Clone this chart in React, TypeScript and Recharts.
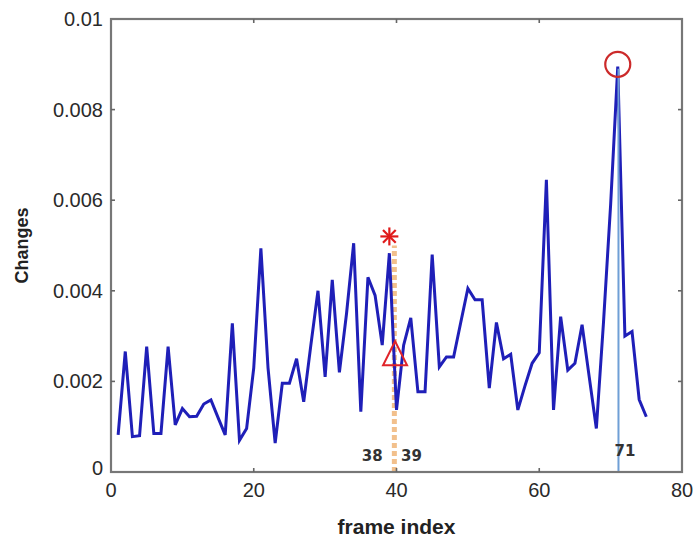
import React from 'react';
import { ComposedChart, Line, Scatter, XAxis, YAxis, ReferenceLine, Label } from 'recharts';

const frameIndex: number[] = [
  1, 2, 3, 4, 5, 6, 7, 8, 9, 10, 11, 12, 13, 14, 15, 16, 17, 18, 19, 20,
  21, 22, 23, 24, 25, 26, 27, 28, 29, 30, 31, 32, 33, 34, 35, 36, 37, 38, 39, 40,
  41, 42, 43, 44, 45, 46, 47, 48, 49, 50, 51, 52, 53, 54, 55, 56, 57, 58, 59, 60,
  61, 62, 63, 64, 65, 66, 67, 68, 69, 70, 71, 72, 73, 74, 75,
];

const changes: number[] = [
  0.00082, 0.00266, 0.00078, 0.0008, 0.00277, 0.00085, 0.00085, 0.00277, 0.00104, 0.0014,
  0.00122, 0.00123, 0.0015, 0.00159, 0.0012, 0.00082, 0.00328, 0.0007, 0.00096, 0.0023,
  0.00494, 0.0023, 0.00064, 0.00196, 0.00196, 0.0025, 0.00155, 0.0028, 0.004, 0.0021,
  0.00424, 0.0022, 0.0035, 0.00505, 0.00133, 0.0043, 0.0039, 0.0028, 0.00483, 0.00137,
  0.0028, 0.0034, 0.00177, 0.00177, 0.0048, 0.00232, 0.00254, 0.00254, 0.0033, 0.00405,
  0.0038, 0.0038, 0.00185, 0.0033, 0.0025, 0.0026, 0.00137, 0.0019, 0.0024, 0.00263,
  0.00645, 0.00137, 0.00343, 0.00225, 0.0024, 0.00325, 0.0021, 0.00096, 0.0033, 0.0059,
  0.00895, 0.003, 0.0031, 0.0016, 0.00122,
];

const xTicks: number[] = [0, 20, 40, 60, 80];
const yTicks: number[] = [0, 0.002, 0.004, 0.006, 0.008, 0.01];
const xMax = 80;
const yMax = 0.01;

// markers
const asteriskPoint = [{ x: 39, y: 0.0052 }];
const trianglePoint = [{ x: 39.8, y: 0.0026 }];
const circlePoint = [{ x: 71, y: 0.009 }];

// reference lines
const dashedLineX = 39.7;
const dashedLineTop = 0.005;
const solidLineX = 71.1;
const solidLineTop = 0.0089;

// annotation labels
const annotationTexts: string[] = ['38', '39', '71'];
const annotationX: number[] = [36.6, 42.1, 72.0];
const annotationY: number[] = [0.00025, 0.00025, 0.00035];

const series = frameIndex.map((f, i) => ({ x: f, y: changes[i] }));
const annotations = annotationTexts.map((t, i) => ({ x: annotationX[i], y: annotationY[i], text: t }));

const W = 697;
const H = 538;
const MARGIN = { top: 19, right: 15, bottom: 0, left: 0 };
const Y_AXIS_W = 111;
const X_AXIS_H = 66;
const PLOT_LEFT = MARGIN.left + Y_AXIS_W;
const PLOT_TOP = MARGIN.top;
const PLOT_RIGHT = W - MARGIN.right;
const PLOT_BOTTOM = H - MARGIN.bottom - X_AXIS_H;
const TICK_LEN = 4;
const AXIS_COLOR = '#777777';

const FONT = '"Liberation Sans", Arial, Helvetica, sans-serif';

const YTick = (props: any) => {
  const { x, y, payload } = props;
  const v = payload.value;
  const label = v === 0 ? '0' : String(+v.toFixed(3));
  return (
    <text x={x - 8} y={y} dy={v === 0 ? 3 : 7} textAnchor="end" fontFamily={FONT} fontSize={20} fill="#2a2a2a">
      {label}
    </text>
  );
};

const XTick = (props: any) => {
  const { x, y, payload } = props;
  return (
    <text x={x} y={y} dy={25} textAnchor="middle" fontFamily={FONT} fontSize={20} fill="#2a2a2a">
      {String(payload.value)}
    </text>
  );
};

// Box frame and inward ticks drawn over the plot frame (MATLAB "box on")
const Frame = () => {
  const pw = PLOT_RIGHT - PLOT_LEFT;
  const ph = PLOT_BOTTOM - PLOT_TOP;
  const inner = (v: number, max: number) => v !== 0 && v !== max;
  return (
    <svg
      width={W}
      height={H}
      style={{ position: 'absolute', left: 0, top: 0, pointerEvents: 'none', overflow: 'visible' }}
    >
      <rect x={PLOT_LEFT} y={PLOT_TOP} width={pw} height={ph} fill="none" stroke={AXIS_COLOR} strokeWidth={2.2} />
      {xTicks.filter((t) => inner(t, xMax)).map((t) => {
        const px = PLOT_LEFT + (t / xMax) * pw;
        return (
          <g key={`xt${t}`} stroke="#666" strokeWidth={1.6}>
            <line x1={px} y1={PLOT_BOTTOM} x2={px} y2={PLOT_BOTTOM - TICK_LEN} />
            <line x1={px} y1={PLOT_TOP} x2={px} y2={PLOT_TOP + TICK_LEN} />
          </g>
        );
      })}
      {yTicks.filter((t) => inner(t, yMax)).map((t) => {
        const py = PLOT_BOTTOM - (t / yMax) * ph;
        return (
          <g key={`yt${t}`} stroke="#666" strokeWidth={1.6}>
            <line x1={PLOT_LEFT} y1={py} x2={PLOT_LEFT + TICK_LEN} y2={py} />
            <line x1={PLOT_RIGHT} y1={py} x2={PLOT_RIGHT - TICK_LEN} y2={py} />
          </g>
        );
      })}
    </svg>
  );
};

const AsteriskShape = (props: any) => {
  const { cx, cy } = props;
  const r = 9;
  const d = r * 0.707;
  return (
    <g stroke="#e01a1a" strokeWidth={2.2}>
      <line x1={cx - r} y1={cy} x2={cx + r} y2={cy} />
      <line x1={cx} y1={cy - r} x2={cx} y2={cy + r} />
      <line x1={cx - d} y1={cy - d} x2={cx + d} y2={cy + d} />
      <line x1={cx - d} y1={cy + d} x2={cx + d} y2={cy - d} />
    </g>
  );
};

const TriangleShape = (props: any) => {
  const { cx, cy } = props;
  const w = 12;
  return (
    <polygon
      points={`${cx},${cy - 13} ${cx - w},${cy + 11} ${cx + w},${cy + 11}`}
      fill="none"
      stroke="#e0242a"
      strokeWidth={2}
    />
  );
};

const CircleShape = (props: any) => {
  const { cx, cy } = props;
  return <circle cx={cx} cy={cy} r={12.5} fill="none" stroke="#cc2a2a" strokeWidth={2.2} />;
};

const TextShape = (props: any) => {
  const { cx, cy, payload } = props;
  return (
    <text x={cx} y={cy} textAnchor="middle" fontFamily='"DejaVu Sans", sans-serif' fontWeight="bold" fontSize={15} fill="#333">
      {payload.text}
    </text>
  );
};

const YLabel = (props: any) => {
  const vb = props.viewBox || {};
  const cx = 22;
  const cy = vb.y + vb.height / 2;
  return (
    <text
      x={cx}
      y={cy}
      transform={`rotate(-90, ${cx}, ${cy})`}
      textAnchor="middle"
      dominantBaseline="central"
      fontFamily={FONT}
      fontWeight="bold"
      fontSize={18}
      fill="#222"
    >
      Changes
    </text>
  );
};

export default function App() {
  return (
    <div style={{ position: 'absolute', left: 0, top: 0, width: W, height: H, background: '#fff' }}>
      <ComposedChart width={W} height={H} margin={MARGIN}>
        <XAxis
          xAxisId="main"
          type="number"
          dataKey="x"
          domain={[0, xMax]}
          ticks={xTicks}
          height={X_AXIS_H}
          tickSize={0}
          tickMargin={0}
          tickLine={false}
          tick={<XTick />}
          axisLine={{ stroke: AXIS_COLOR, strokeWidth: 2 }}
          allowDataOverflow
        >
          <Label
            value="frame index"
            position="insideBottom"
            offset={4}
            fontFamily={FONT}
            fontWeight="bold"
            fontSize={21}
            fill="#222"
          />
        </XAxis>
        <YAxis
          yAxisId="main"
          type="number"
          dataKey="y"
          domain={[0, yMax]}
          ticks={yTicks}
          width={Y_AXIS_W}
          tickSize={0}
          tickMargin={0}
          tickLine={false}
          tick={<YTick />}
          axisLine={{ stroke: AXIS_COLOR, strokeWidth: 2 }}
          allowDataOverflow
        >
          <Label content={<YLabel />} />
        </YAxis>
        <ReferenceLine
          xAxisId="main"
          yAxisId="main"
          segment={[{ x: dashedLineX, y: 0 }, { x: dashedLineX, y: dashedLineTop }]}
          stroke="#f2c08c"
          strokeWidth={5}
          strokeDasharray="5 3"
        />
        <Line
          xAxisId="main"
          yAxisId="main"
          data={series}
          dataKey="y"
          type="linear"
          stroke="#1f1fb8"
          strokeWidth={3}
          dot={false}
          isAnimationActive={false}
        />
        <ReferenceLine
          xAxisId="main"
          yAxisId="main"
          segment={[{ x: solidLineX, y: 0 }, { x: solidLineX, y: solidLineTop }]}
          stroke="#6f9fd6"
          strokeWidth={2}
        />
        <Scatter xAxisId="main" yAxisId="main" data={asteriskPoint} dataKey="y" shape={<AsteriskShape />} isAnimationActive={false} />
        <Scatter xAxisId="main" yAxisId="main" data={trianglePoint} dataKey="y" shape={<TriangleShape />} isAnimationActive={false} />
        <Scatter xAxisId="main" yAxisId="main" data={circlePoint} dataKey="y" shape={<CircleShape />} isAnimationActive={false} />
        <Scatter xAxisId="main" yAxisId="main" data={annotations} dataKey="y" shape={<TextShape />} isAnimationActive={false} />
      </ComposedChart>
      <Frame />
    </div>
  );
}
